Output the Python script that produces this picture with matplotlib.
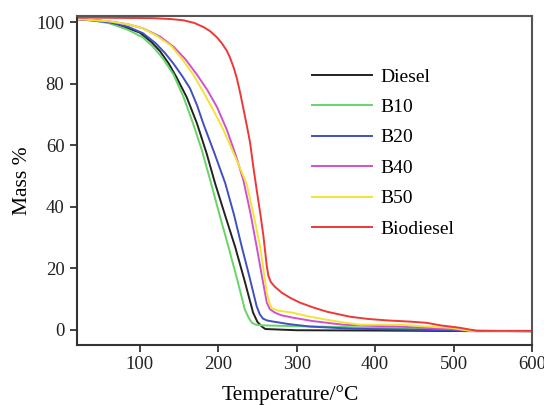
import matplotlib
matplotlib.use("Agg")
import matplotlib.pyplot as plt

plt.rcParams['font.family'] = ['Liberation Serif', 'DejaVu Serif']

diesel_T = [20, 50, 80, 100, 115, 126, 137, 147, 160, 173, 185, 196, 209, 221.5, 233, 244.5, 250, 255.6, 260, 300, 400, 530, 600]
diesel_M = [101, 100.5, 98.5, 96.6, 93.5, 90.5, 86.5, 82, 75.5, 67, 57.5, 47.6, 37, 27, 16.5, 5.5, 2.5, 1, 0.2, -0.2, -0.3, -0.5, -0.5]

b10_T = [20, 40, 62, 85, 104, 117, 130, 143, 156, 168, 179, 189.7, 201, 213, 224, 234, 239, 243, 248, 255, 300, 350, 400, 450, 530, 600]
b10_M = [101, 100.6, 99.6, 97.5, 95, 92, 88, 83, 75.5, 67, 58.5, 48.7, 38, 27, 16.5, 6.5, 3.8, 2.2, 1.6, 1.4, 1.1, 0.9, 0.6, 0.3, -0.4, -0.5]

b20_T = [20, 60, 85, 104, 120, 132, 143, 154, 164, 173, 181, 195, 209, 220, 230, 240, 249, 253, 257, 262, 268, 290, 317, 370, 440, 530, 600]
b20_M = [101, 100, 98.5, 96.4, 93.2, 90, 86.5, 82.5, 78.5, 73, 67, 57.5, 47.6, 37.5, 27, 17, 7.6, 5, 3.6, 3, 2.7, 1.8, 1.0, 0.3, 0, -0.4, -0.5]

b40_T = [20, 60, 85, 104, 126, 143, 158, 172.7, 186, 198.6, 211, 222, 232, 241, 249, 256, 262, 266, 272.5, 280, 295, 320, 359, 400, 430, 470, 508, 530, 600]
b40_M = [101, 100.3, 99.3, 98, 95.3, 92, 88, 83, 78, 72.3, 65, 57, 48.7, 38, 27, 17, 8.7, 6.6, 5.5, 4.7, 3.9, 2.8, 1.6, 1.2, 1.0, 0.5, 0, -0.4, -0.5]

b50_T = [20, 60, 85, 104, 122, 140, 154, 168, 181, 194, 206.6, 222, 236, 245, 253.4, 258, 262, 265, 268, 276, 295, 315, 339, 360, 381, 432, 460, 496, 521, 600]
b50_M = [101, 100.3, 99.3, 98, 95.5, 92.3, 88, 83, 77.3, 71.3, 65, 56, 47.6, 37.5, 27, 19, 12, 9, 7, 6.2, 5.5, 4.3, 3.2, 2.3, 1.6, 1.6, 1.1, 0.6, -0.4, -0.5]

bio_T = [20, 117, 140, 156, 170, 182, 190, 198.6, 205, 211, 215, 220, 224, 228, 232, 236, 240.7, 245, 249.6, 253.5, 257.6, 262, 264, 267, 272, 281, 292, 304, 320, 339, 368, 390, 415, 445, 466, 483, 508, 530, 600]
bio_M = [101.5, 101.3, 101, 100.6, 99.7, 98.3, 97, 95, 93, 90.7, 88.5, 85, 81.5, 77, 72, 67, 60.7, 52.5, 44.5, 38, 30.5, 20.5, 17.5, 15.5, 14, 12, 10.3, 8.8, 7.3, 5.8, 4.2, 3.5, 3, 2.6, 2.2, 1.4, 0.6, -0.4, -0.4]

labels = ['Diesel', 'B10', 'B20', 'B40', 'B50', 'Biodiesel']
colors = ['#222222', '#66d466', '#4050c0', '#d050d0', '#f0e436', '#ee3838']
series = [(diesel_T, diesel_M), (b10_T, b10_M), (b20_T, b20_M),
          (b40_T, b40_M), (b50_T, b50_M), (bio_T, bio_M)]

fig = plt.figure(figsize=(5.44, 4.05), dpi=100)
ax = fig.add_axes([77/544, 1-345/405, (532-77)/544, (345-16)/405])

for (T, M), c, lab in zip(series, colors, labels):
    ax.plot(T, M, color=c, lw=1.4, label=lab)

ax.set_xlim(20, 600)
ax.set_ylim(-5, 102)
ax.set_xticks([100, 200, 300, 400, 500, 600])
ax.set_yticks([0, 20, 40, 60, 80, 100])
ax.tick_params(axis='both', direction='out', length=5, width=1.2, labelsize=13.5, colors='#222222')
ax.tick_params(axis='y', pad=4)
ax.tick_params(axis='x', pad=3)
for s in ['left', 'bottom']:
    ax.spines[s].set_linewidth(1.5)
    ax.spines[s].set_color('#333333')
for s in ['top', 'right']:
    ax.spines[s].set_linewidth(1.5)
    ax.spines[s].set_color('#555555')

ax.set_xlabel('Temperature/°C', fontsize=15.5)
ax.xaxis.set_label_coords((290-77)/455, -40/329)
ax.set_ylabel('Mass %', fontsize=15.5, labelpad=3)

leg = ax.legend(loc='upper left', bbox_to_anchor=(312/544, 1-68/405),
                bbox_transform=fig.transFigure, frameon=False, fontsize=14,
                handlelength=3.1, handletextpad=0.4, labelspacing=0.66,
                borderpad=0, borderaxespad=0)

fig.savefig('out.png', dpi=100)
